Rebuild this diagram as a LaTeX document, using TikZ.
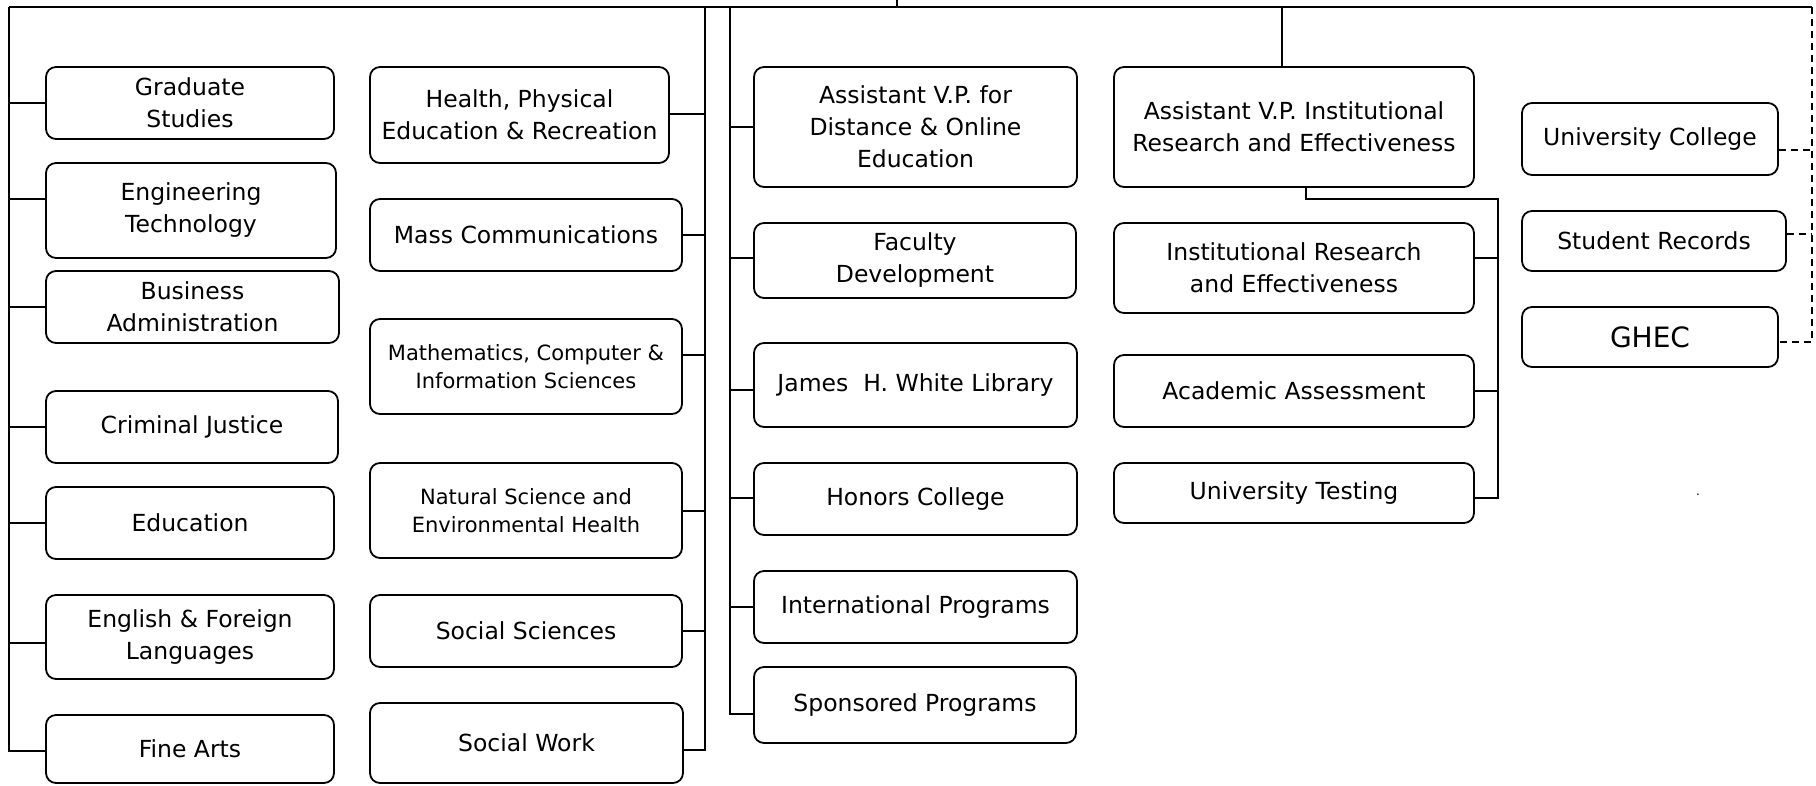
\documentclass[tikz,border=0pt]{standalone}
\usepackage{fontspec}
\setmainfont{DejaVu Sans}
\begin{document}
\begin{tikzpicture}[x=1pt,y=-1pt,
 box/.style={draw, rounded corners=10pt, line width=1.8pt, align=center, inner sep=0pt, font=\fontsize{23.5}{32}\selectfont},
 smallbox/.style={box, font=\fontsize{21}{28}\selectfont},
 bigbox/.style={box, font=\fontsize{28}{32}\selectfont},
 conn/.style={line width=1.7pt},
 dconn/.style={line width=1.4pt, dash pattern=on 7pt off 5pt}]
\useasboundingbox (0,0) rectangle (1816,785);
% left column
\node[box, minimum width=288, minimum height=72] (grad) at (190,103) {Graduate\\Studies};
\node[box, minimum width=290, minimum height=95] (eng) at (191,210.5) {Engineering\\Technology};
\node[box, minimum width=293, minimum height=72] (bus) at (192.5,307) {Business\\Administration};
\node[box, minimum width=292, minimum height=72] (crim) at (192,427) {Criminal Justice};
\node[box, minimum width=288, minimum height=72] (edu) at (190,523) {Education};
\node[box, minimum width=288, minimum height=84] (engl) at (190,637) {English \& Foreign\\Languages};
\node[box, minimum width=288, minimum height=68] (fine) at (190,749) {Fine Arts};
% second column
\node[box, minimum width=299, minimum height=96] (health) at (519.5,115) {Health, Physical\\Education \& Recreation};
\node[box, minimum width=312, minimum height=72] (mass) at (526,235) {Mass Communications};
\node[smallbox, minimum width=312, minimum height=95] (math) at (526,366.5) {Mathematics, Computer \&\\Information Sciences};
\node[smallbox, minimum width=312, minimum height=95] (nat) at (526,510.5) {Natural Science and\\Environmental Health};
\node[box, minimum width=312, minimum height=72] (socsci) at (526,631) {Social Sciences};
\node[box, minimum width=313, minimum height=80] (socwork) at (526.5,743) {Social Work};
% third column
\node[box, minimum width=323, minimum height=120] (avpd) at (915.5,127) {Assistant V.P. for\\Distance \& Online\\Education};
\node[box, minimum width=322, minimum height=75] (fac) at (915,260.5) {Faculty\\Development};
\node[box, minimum width=323, minimum height=84] (james) at (915.5,385) {James\ \ H. White Library};
\node[box, minimum width=323, minimum height=72] (hon) at (915.5,499) {Honors College};
\node[box, minimum width=323, minimum height=72] (intl) at (915.5,607) {International Programs};
\node[box, minimum width=322, minimum height=76] (spon) at (915,705) {Sponsored Programs};
% fourth column
\node[box, minimum width=360, minimum height=120] (avpir) at (1294,127) {Assistant V.P. Institutional\\Research and Effectiveness};
\node[box, minimum width=360, minimum height=90] (ire) at (1294,268) {Institutional Research\\and Effectiveness};
\node[box, minimum width=360, minimum height=72] (acad) at (1294,391) {Academic Assessment};
\node[box, minimum width=360, minimum height=60] (test) at (1294,493) {University Testing};
% right column
\node[box, minimum width=256, minimum height=72] (ucol) at (1650,139) {University College};
\node[box, minimum width=264, minimum height=60] (srec) at (1654,241) {Student Records};
\node[bigbox, minimum width=256, minimum height=60] (ghec) at (1650,337) {GHEC};
\node[font=\fontsize{12}{12}\selectfont, inner sep=0pt] (dot) at (1698,495) {.};
% bus coordinates
\coordinate (top) at (897,0);
\coordinate (T) at (897,7);
\coordinate (LB) at (9,7);
\coordinate (B2) at (705,7);
\coordinate (B3) at (730,7);
\coordinate (TR) at (1812,7);
\coordinate (IR) at (1282,7);
% connectors
\draw[conn] (top) -- (T);
\draw[conn] (LB) -- (TR);
\draw[conn] (LB) |- (fine.west |- 0,751);
\foreach \n/\yy in {grad/103, eng/199, bus/307, crim/427, edu/523, engl/643}
  \draw[conn] (\n.west |- 0,\yy) -- (LB |- 0,\yy);
\draw[conn] (B2) |- (socwork.east |- 0,750);
\foreach \n/\yy in {health/114, mass/235, math/355, nat/511, socsci/631}
  \draw[conn] (\n.east |- 0,\yy) -- (B2 |- 0,\yy);
\draw[conn] (B3) |- (spon.west |- 0,714);
\foreach \n/\yy in {avpd/127, fac/258, james/390, hon/498, intl/607}
  \draw[conn] (\n.west |- 0,\yy) -- (B3 |- 0,\yy);
\draw[conn] (IR) -- (IR |- avpir.north);
\draw[conn] (avpir.south -| 1306,0) |- (1498,199) |- (test.east |- 0,498);
\foreach \n/\yy in {ire/258, acad/391}
  \draw[conn] (\n.east |- 0,\yy) -- (1498,\yy);
\draw[dconn] (TR) |- (ghec.east |- 0,342);
\foreach \n/\yy in {ucol/150, srec/234}
  \draw[dconn] (\n.east |- 0,\yy) -- (TR |- 0,\yy);
\end{tikzpicture}
\end{document}
